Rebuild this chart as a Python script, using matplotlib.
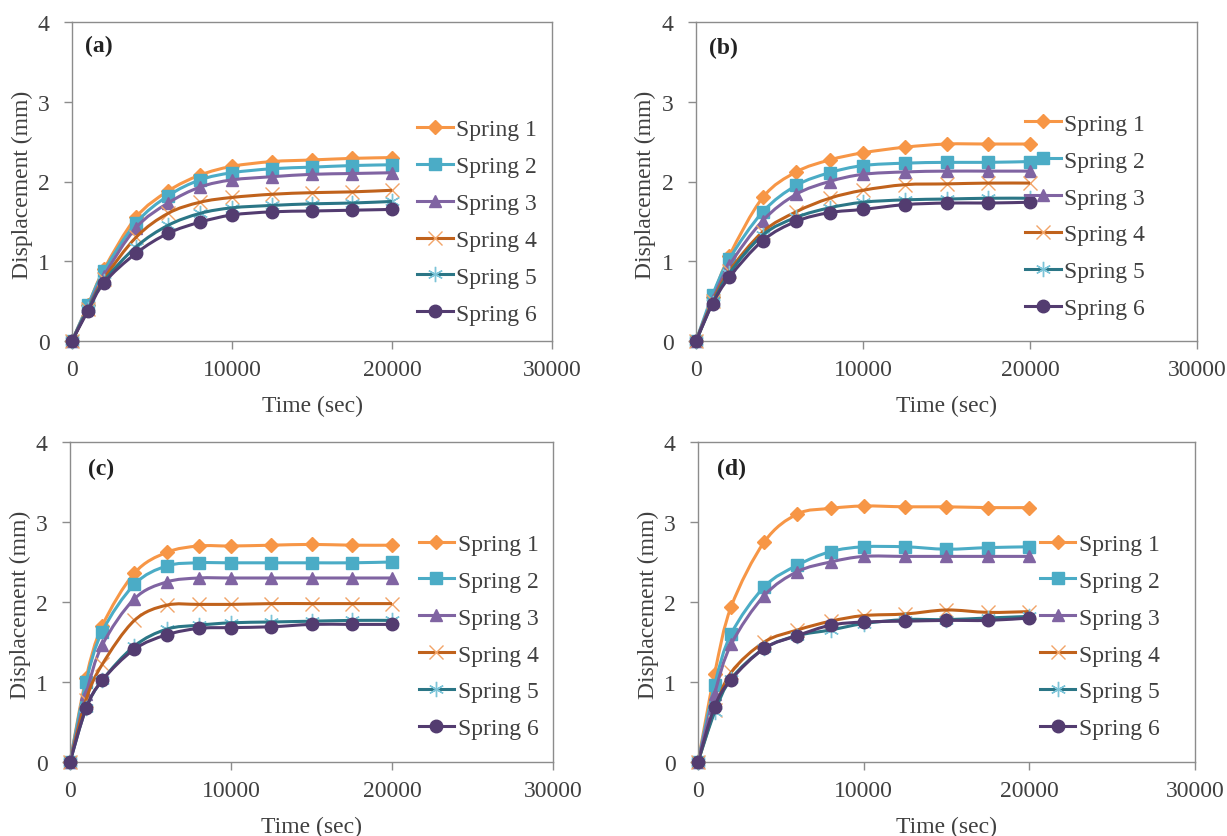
import matplotlib
matplotlib.use("Agg")
import matplotlib.pyplot as plt
from matplotlib.path import Path
from matplotlib.patches import PathPatch
from matplotlib.lines import Line2D
import numpy as np

plt.rcParams['font.family'] = ['Liberation Serif', 'DejaVu Serif']

# ---------------- data ----------------
time_sec = [0, 1000, 2000, 4000, 6000, 8000, 10000, 12500, 15000, 17500, 20000]
labels = ["Spring 1", "Spring 2", "Spring 3", "Spring 4", "Spring 5", "Spring 6"]
panel_names = ["(a)", "(b)", "(c)", "(d)"]

a_s1 = [0, 0.45, 0.90, 1.55, 1.88, 2.08, 2.19, 2.25, 2.27, 2.29, 2.30]
a_s2 = [0, 0.45, 0.88, 1.48, 1.82, 2.02, 2.11, 2.16, 2.18, 2.20, 2.21]
a_s3 = [0, 0.42, 0.82, 1.42, 1.73, 1.93, 2.02, 2.06, 2.09, 2.10, 2.11]
a_s4 = [0, 0.40, 0.78, 1.30, 1.60, 1.74, 1.80, 1.84, 1.86, 1.87, 1.89]
a_s5 = [0, 0.40, 0.75, 1.18, 1.45, 1.60, 1.67, 1.70, 1.72, 1.73, 1.75]
a_s6 = [0, 0.38, 0.73, 1.10, 1.35, 1.49, 1.58, 1.62, 1.63, 1.64, 1.65]

b_s1 = [0, 0.55, 1.07, 1.80, 2.12, 2.27, 2.36, 2.43, 2.47, 2.47, 2.47]
b_s2 = [0, 0.58, 1.03, 1.62, 1.95, 2.11, 2.20, 2.23, 2.24, 2.24, 2.25]
b_s3 = [0, 0.52, 0.95, 1.51, 1.84, 2.00, 2.09, 2.12, 2.13, 2.13, 2.13]
b_s4 = [0, 0.50, 0.88, 1.37, 1.62, 1.79, 1.89, 1.96, 1.97, 1.98, 1.98]
b_s5 = [0, 0.48, 0.85, 1.33, 1.55, 1.67, 1.74, 1.77, 1.78, 1.79, 1.79]
b_s6 = [0, 0.47, 0.80, 1.26, 1.50, 1.61, 1.65, 1.71, 1.73, 1.73, 1.74]

c_s1 = [0, 1.05, 1.70, 2.36, 2.62, 2.70, 2.70, 2.71, 2.72, 2.71, 2.71]
c_s2 = [0, 1.00, 1.63, 2.22, 2.45, 2.49, 2.49, 2.49, 2.49, 2.49, 2.50]
c_s3 = [0, 0.85, 1.46, 2.04, 2.25, 2.30, 2.30, 2.30, 2.30, 2.30, 2.30]
c_s4 = [0, 0.78, 1.22, 1.77, 1.96, 1.97, 1.97, 1.98, 1.98, 1.98, 1.98]
c_s5 = [0, 0.67, 1.02, 1.45, 1.66, 1.71, 1.74, 1.75, 1.76, 1.77, 1.77]
c_s6 = [0, 0.67, 1.02, 1.41, 1.59, 1.67, 1.68, 1.69, 1.72, 1.72, 1.72]

d_s1 = [0, 1.10, 1.94, 2.75, 3.10, 3.17, 3.20, 3.19, 3.19, 3.18, 3.18]
d_s2 = [0, 0.96, 1.60, 2.19, 2.46, 2.63, 2.69, 2.69, 2.66, 2.68, 2.69]
d_s3 = [0, 0.85, 1.47, 2.08, 2.38, 2.50, 2.57, 2.57, 2.57, 2.57, 2.57]
d_s4 = [0, 0.65, 1.12, 1.50, 1.65, 1.76, 1.83, 1.85, 1.90, 1.87, 1.88]
d_s5 = [0, 0.62, 1.04, 1.42, 1.58, 1.65, 1.73, 1.78, 1.78, 1.80, 1.82]
d_s6 = [0, 0.69, 1.03, 1.42, 1.58, 1.71, 1.75, 1.76, 1.77, 1.77, 1.80]

panels = [
    [a_s1, a_s2, a_s3, a_s4, a_s5, a_s6],
    [b_s1, b_s2, b_s3, b_s4, b_s5, b_s6],
    [c_s1, c_s2, c_s3, c_s4, c_s5, c_s6],
    [d_s1, d_s2, d_s3, d_s4, d_s5, d_s6],
]

# ---------------- styles ----------------
line_colors = ["#F79646", "#4BACC6", "#8064A2", "#C0621C", "#2B7686", "#533C70"]
marker_colors = ["#F79646", "#4BACC6", "#8064A2", "#F2A468", "#7CC4D8", "#533C70"]
markers = ["D", "s", "^", "x", (6, 2, 0), "o"]
msizes = [7, 8, 9, 10, 11, 9]

W, H = 1227, 837
fig = plt.figure(figsize=(W / 100, H / 100), dpi=100)

# axes boxes in pixels: left, right, top(y=4), bottom(y=0)
boxes = [(72, 552, 23, 342), (696, 1197, 23, 342), (70, 553, 443, 763), (698, 1195, 443, 763)]
leg_anchor = [(0.719, 0.697), (0.657, 0.714), (0.722, 0.7145), (0.688, 0.7145)]
tag_pos = [(0.027, 0.926), (0.026, 0.92), (0.037, 0.916), (0.038, 0.916)]
ylabel_x = [22, 645, 20, 648]
xlabel_off = 64

frame_col = "#8C8C8C"
text_col = "#404040"


def smooth_path(x, y):
    pts = np.column_stack([x, y]).astype(float)
    n = len(pts)
    verts = [pts[0]]
    codes = [Path.MOVETO]
    for i in range(n - 1):
        p0 = pts[max(i - 1, 0)]
        p1 = pts[i]
        p2 = pts[i + 1]
        p3 = pts[min(i + 2, n - 1)]
        c1 = p1 + (p2 - p0) / 6.0
        c2 = p2 - (p3 - p1) / 6.0
        verts += [c1, c2, p2]
        codes += [Path.CURVE4] * 3
    return Path(verts, codes)


for k, (l, r, t, b) in enumerate(boxes):
    ax = fig.add_axes([l / W, 1 - b / H, (r - l) / W, (b - t) / H])
    ax.set_xlim(0, 30000)
    ax.set_ylim(0, 4)
    ax.set_xticks([0, 10000, 20000, 30000])
    ax.set_yticks([0, 1, 2, 3, 4])
    ax.set_xticklabels(["0", "10000", "20000", "30000"])
    for s in ax.spines.values():
        s.set_color(frame_col)
        s.set_linewidth(1.0)
    ax.tick_params(axis='both', direction='out', length=6, width=1.0, color=frame_col,
                   labelsize=17, labelcolor=text_col)
    ax.tick_params(axis='y', pad=10)
    ax.tick_params(axis='x', pad=7)

    handles = []
    for j, ys in enumerate(panels[k]):
        patch = PathPatch(smooth_path(time_sec, ys), facecolor='none',
                          edgecolor=line_colors[j], lw=2.2, zorder=2 + j * 0.1,
                          clip_on=False)
        ax.add_patch(patch)
        mk = markers[j]
        if j in (3, 4):
            ax.plot(time_sec, ys, linestyle='none', marker=mk, markersize=msizes[j],
                    markeredgecolor=marker_colors[j], markeredgewidth=1.0,
                    markerfacecolor='none', zorder=2 + j * 0.1 - 0.05, clip_on=False)
        else:
            ax.plot(time_sec, ys, linestyle='none', marker=mk, markersize=msizes[j],
                    color=marker_colors[j], markeredgecolor=marker_colors[j],
                    zorder=2 + j * 0.1 + 0.05, clip_on=False)
        handles.append(Line2D([], [], color=line_colors[j], lw=2.2, marker=mk,
                              markersize=msizes[j],
                              markerfacecolor=('none' if j in (3, 4) else marker_colors[j]),
                              markeredgecolor=marker_colors[j],
                              markeredgewidth=1.0))

    ax.legend(handles, labels, loc='upper left', bbox_to_anchor=leg_anchor[k],
              frameon=False, fontsize=17, handlelength=1.5, handletextpad=0.15,
              labelspacing=0.65, borderpad=0, borderaxespad=0, labelcolor=text_col)

    ax.text(tag_pos[k][0], tag_pos[k][1], panel_names[k], transform=ax.transAxes,
            fontsize=17, fontweight='bold', color="#222222", va='center', ha='left')

    fig.text(ylabel_x[k] / W, 1 - ((t + b) / 2 + 2) / H, "Displacement (mm)",
             rotation=90, ha='center', va='center', fontsize=17, color=text_col)
    fig.text(((l + r) / 2) / W, 1 - (b + xlabel_off) / H, "Time (sec)",
             ha='center', va='center', fontsize=17, color=text_col)

fig.savefig("out.png", dpi=100, facecolor='white')
